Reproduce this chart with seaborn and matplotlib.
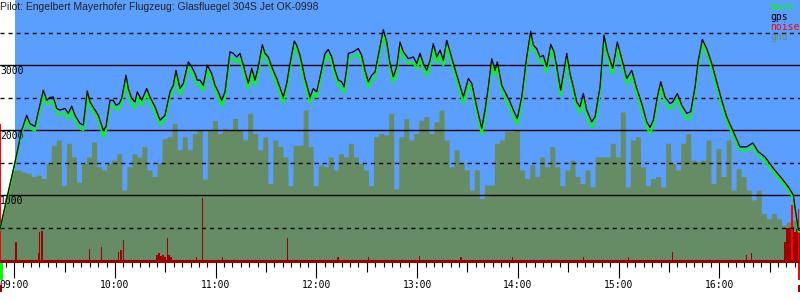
import numpy as np
import pandas as pd
import seaborn as sns
import matplotlib.pyplot as plt
import matplotlib.transforms as mtransforms
from matplotlib.patches import Rectangle
from matplotlib.ticker import MultipleLocator

# --- data ---
title = "Pilot: Engelbert Mayerhofer Flugzeug: Glasfluegel 304S Jet OK-0998"

fix_time = [
    "08:51:29", "08:55:57", "09:00:25", "09:04:25", "09:07:23", "09:09:21", "09:12:20", "09:17:17",
    "09:19:18", "09:21:16", "09:23:14", "09:25:16", "09:27:14", "09:30:13", "09:32:10", "09:34:12",
    "09:36:10", "09:39:09", "09:41:07", "09:43:29", "09:45:06", "09:48:05", "09:50:03", "09:53:02",
    "09:54:38", "09:57:01", "09:58:59", "10:00:35", "10:02:33", "10:03:59", "10:06:33", "10:07:55",
    "10:09:57", "10:11:55", "10:13:17", "10:15:54", "10:18:53", "10:20:51", "10:23:50", "10:26:49",
    "10:29:47", "10:32:46", "10:34:44", "10:36:20", "10:38:43", "10:40:41", "10:43:40", "10:45:41",
    "10:47:40", "10:49:02", "10:50:38", "10:52:37", "10:54:59", "10:57:37", "10:59:35", "11:01:32",
    "11:03:34", "11:05:32", "11:08:31", "11:10:29", "11:12:31", "11:14:28", "11:16:26", "11:19:25",
    "11:21:26", "11:23:25", "11:25:23", "11:27:46", "11:29:22", "11:31:20", "11:33:22", "11:36:20",
    "11:40:16", "11:42:18", "11:44:16", "11:46:49", "11:48:15", "11:50:13", "11:53:12", "11:56:11",
    "11:58:08", "12:00:10", "12:02:08", "12:05:07", "12:07:05", "12:09:07", "12:11:05", "12:13:02",
    "12:15:04", "12:16:26", "12:18:03", "12:19:00", "12:21:59", "12:24:58", "12:26:59", "12:28:57",
    "12:30:55", "12:32:56", "12:34:55", "12:37:53", "12:39:52", "12:41:53", "12:43:51", "12:45:49",
    "12:47:50", "12:49:49", "12:51:46", "12:54:45", "12:57:44", "12:59:46", "13:01:44", "13:03:41",
    "13:05:43", "13:07:41", "13:09:39", "13:11:41", "13:13:39", "13:15:37", "13:17:38", "13:19:37",
    "13:21:34", "13:24:33", "13:27:32", "13:30:31", "13:32:32", "13:35:31", "13:38:29", "13:40:27",
    "13:42:25", "13:44:26", "13:46:25", "13:47:47", "13:50:24", "13:52:22", "13:55:21", "13:57:19",
    "13:59:41", "14:02:19", "14:05:17", "14:07:40", "14:09:13", "14:11:14", "14:13:13", "14:15:11",
    "14:17:12", "14:19:35", "14:21:33", "14:23:10", "14:25:32", "14:27:31", "14:29:07", "14:31:05",
    "14:33:03", "14:35:04", "14:37:02", "14:39:01", "14:41:02", "14:44:01", "14:45:59", "14:48:58",
    "14:51:20", "14:53:19", "14:56:32", "14:59:16", "15:01:53", "15:04:52", "15:07:51", "15:10:50",
    "15:13:49", "15:16:47", "15:18:45", "15:20:43", "15:23:06", "15:25:08", "15:27:41", "15:30:40",
    "15:32:17", "15:35:01", "15:37:38", "15:40:37", "15:43:00", "15:45:34", "15:47:32", "15:49:55",
    "15:52:32", "15:55:31", "15:58:29", "16:01:28", "16:04:27", "16:08:23", "16:12:22", "16:16:22",
    "16:19:56", "16:23:16", "16:27:16", "16:32:13", "16:37:13", "16:41:09", "16:44:08", "16:45:08",
    "16:47:07", "16:48:06",
]

gps_alt = [
    480, 1000, 1510, 2000, 2230, 2100, 2060, 2615, 2460, 2505, 2510, 2335, 2310, 2335, 2260, 2370,
    2230, 2105, 2080, 2605, 2435, 2310, 2230, 2000, 2055, 2460, 2460, 2385, 2410, 2490, 2845, 2640,
    2490, 2435, 2590, 2460, 2640, 2510, 2360, 2155, 2230, 2590, 2690, 2920, 2640, 2720, 3050, 2975,
    2870, 2770, 2770, 2690, 3000, 2870, 2690, 2590, 2460, 2590, 3205, 3180, 3125, 3180, 3000, 2720,
    2950, 2770, 2975, 3315, 3180, 3125, 2975, 2795, 2510, 2720, 3025, 3370, 3305, 3150, 2795, 2510,
    2640, 2590, 2820, 3180, 3240, 3125, 2920, 2770, 2745, 2665, 2950, 3180, 3205, 3255, 3150, 2920,
    2745, 2845, 2895, 3280, 3545, 3355, 3025, 2820, 2975, 3355, 3205, 3100, 3125, 3025, 3180, 3025,
    2920, 3075, 3330, 3125, 3230, 3075, 3380, 3205, 3025, 2770, 2510, 2795, 2720, 2360, 2030, 2310,
    2665, 3100, 2920, 3050, 2690, 2590, 2435, 2310, 2180, 2510, 3125, 3520, 3305, 3255, 3125, 3150,
    2975, 3320, 3205, 2975, 2615, 2920, 3180, 2870, 2665, 2435, 2360, 2565, 2310, 2130, 2205, 2665,
    3460, 3205, 2950, 3355, 3100, 2795, 2920, 2640, 2410, 2130, 2045, 2155, 2510, 2745, 2510, 2410,
    2435, 2565, 2385, 2260, 2285, 2665, 3075, 3395, 3255, 3025, 2745, 2460, 2205, 1975, 1745, 1745,
    1805, 1670, 1590, 1415, 1260, 1130, 1005, 810, 470, 460,
]

baro_alt = [
    470, 980, 1480, 1960, 2160, 2030, 1990, 2540, 2390, 2420, 2440, 2260, 2230, 2270, 2180, 2290,
    2140, 2030, 2000, 2530, 2370, 2240, 2160, 1900, 1990, 2390, 2380, 2310, 2330, 2410, 2760, 2560,
    2400, 2350, 2510, 2380, 2560, 2430, 2280, 2080, 2160, 2510, 2610, 2840, 2550, 2640, 2970, 2890,
    2790, 2690, 2700, 2610, 2920, 2790, 2610, 2510, 2370, 2510, 3120, 3100, 3040, 3100, 2920, 2640,
    2870, 2690, 2890, 3230, 3100, 3050, 2890, 2710, 2420, 2640, 2940, 3290, 3220, 3070, 2710, 2420,
    2560, 2510, 2740, 3100, 3160, 3040, 2840, 2690, 2660, 2580, 2870, 3100, 3120, 3170, 3070, 2840,
    2660, 2760, 2810, 3200, 3460, 3270, 2940, 2740, 2890, 3280, 3120, 3020, 3040, 2940, 3100, 2940,
    2840, 2990, 3250, 3040, 3150, 2990, 3300, 3120, 2940, 2690, 2420, 2710, 2640, 2280, 1930, 2230,
    2580, 3020, 2840, 2970, 2610, 2500, 2350, 2220, 2090, 2430, 3040, 3440, 3220, 3170, 3040, 3070,
    2890, 3240, 3120, 2890, 2530, 2840, 3100, 2790, 2580, 2350, 2270, 2480, 2220, 2040, 2120, 2580,
    3380, 3120, 2860, 3280, 3020, 2710, 2840, 2560, 2320, 2040, 1950, 2070, 2430, 2660, 2430, 2330,
    2350, 2480, 2300, 2170, 2200, 2590, 3000, 3320, 3180, 2950, 2670, 2390, 2140, 1910, 1690, 1690,
    1750, 1610, 1530, 1360, 1210, 1085, 960, 770, 450, 440,
]

# ground elevation, one value every 3 minutes from 08:52
gnd_start = "08:52:00"
gnd_step_min = 3
gnd_alt = [
    1300, 1350, 1390, 1390, 1360, 1340, 1290, 1310, 1260, 1490,
    1770, 1850, 1150, 1800, 1590, 1200, 1490, 1590, 1820, 1440,
    1390, 1490, 1540, 1640, 1080, 1440, 1640, 1590, 1750, 1390,
    1290, 1490, 1870, 1900, 2100, 1700, 1900, 1700, 1950, 2000,
    1250, 2000, 2150, 1950, 2030, 2010, 2180, 2000, 1850, 2260,
    1950, 1700, 1900, 1180, 1850, 1750, 1590, 1150, 1770, 1770,
    2310, 1750, 1150, 1470, 1440, 1590, 1390, 1640, 1590, 1800,
    1590, 1490, 1390, 1150, 1900, 1950, 1930, 2260, 1100, 1900,
    2180, 1850, 1950, 2150, 2210, 1950, 2130, 2310, 1850, 1440,
    1700, 1490, 1390, 1080, 1390, 950, 1160, 1160, 1800, 1850,
    1980, 1980, 2000, 1390, 1260, 1470, 1290, 1590, 1440, 1750,
    1440, 1150, 1390, 1540, 1290, 1180, 1390, 1130, 1590, 1590,
    1590, 1800, 1590, 2280, 1130, 1850, 1900, 1440, 1150, 1260,
    1290, 1130, 1800, 1490, 1390, 1800, 1950, 1540, 1520, 1540,
    1850, 1180, 1720, 1290, 1850, 1080, 1410, 1290, 1080, 930,
    1080, 720, 640, 720, 640, 540, 590, 620, 570, 560,
]

noise_time = [
    "09:01:00", "09:14:18", "09:14:54", "09:16:12", "09:16:48", "09:44:41", "09:52:04", "10:01:58",
    "10:03:34", "10:04:56", "10:25:01", "10:26:13", "10:27:24", "10:28:36", "10:29:47", "10:31:10",
    "10:32:10", "10:33:22", "10:48:40", "10:52:00", "11:04:10", "11:42:40", "12:12:52", "12:30:55",
    "13:01:18", "13:26:08", "13:56:42", "14:39:00", "15:05:48", "15:32:16", "16:16:22", "16:19:20",
    "16:39:12", "16:40:24", "16:41:36", "16:42:48", "16:44:00", "16:45:08", "16:46:18", "16:47:30",
]
noise_val = [
    290, 115, 430, 460, 460, 180, 200, 125, 160, 320, 80, 110, 70, 90, 60, 340,
    90, 60, 50, 960, 60, 350, 50, 50, 70, 50, 60, 50, 60, 130, 85, 110,
    290, 500, 500, 470, 520, 430, 480, 470,
]
# noise peaks drawn in bright red
alarm_time = ["08:51:46", "16:43:12", "16:47:06"]
alarm_val = [2100, 850, 790]

sky_start = "09:00:25"
hour_labels = ["09:00", "10:00", "11:00", "12:00", "13:00", "14:00", "15:00", "16:00"]
alt_labels = [1000, 2000, 3000]
alt_dashed = [500, 1500, 2500, 3500]
legend_names = ["baro", "gps", "noise", "gnd"]

# --- colours ---
c_sky = "#5b9ffe"
c_gnd = "#658c64"
c_noise = "#9c0000"
c_alarm = "#ff0000"
c_baro = "#00ff00"
c_gps = "#000000"
legend_colors = [c_baro, c_gps, c_alarm, c_gnd]


def to_h(s):
    return pd.to_timedelta(s).total_seconds() / 3600


t = np.array([to_h(s) for s in fix_time])
df = pd.DataFrame({"t": t, "gps": gps_alt, "baro": baro_alt})

sns.set_theme(style="white")
mono = "DejaVu Sans Mono"
plt.rcParams["font.family"] = [mono]

W, H = 800, 300
fig = plt.figure(figsize=(W / 100, H / 100), dpi=100)
ax_h = 260.5
ax = fig.add_axes([0, (H - ax_h) / H, 1, ax_h / H])
ax.set_facecolor("white")
x0, x1 = t[0], t[-1]
ax.set_xlim(x0, x1)
ax.set_ylim(0, 4000)
for sp in ax.spines.values():
    sp.set_visible(False)

# sky
ax.axvspan(to_h(sky_start), x1, color=c_sky, lw=0, zorder=0)

# ground, clipped below the trace
gt0 = to_h(gnd_start)
tt = np.arange(x0, x1, 1 / 600)
idx = np.clip(np.floor((tt - gt0) * 60 / gnd_step_min).astype(int), 0, len(gnd_alt) - 1)
g = np.minimum(np.array(gnd_alt)[idx], np.interp(tt, t, baro_alt))
ax.fill_between(tt, 0, g, color=c_gnd, lw=0, zorder=1)

# engine noise
px_h = (x1 - x0) / W
ax.bar([to_h(s) for s in noise_time], noise_val, width=1.3 * px_h, color=c_noise, lw=0, zorder=2)
ax.bar([to_h(s) for s in alarm_time], alarm_val, width=1.5 * px_h, color=c_alarm, lw=0, zorder=2)
ax.axhline(0, color=c_noise, lw=2.2, zorder=2, clip_on=False)

# reference lines
for v in alt_labels:
    ax.axhline(v, color="black", lw=1.0, zorder=3)
for v in alt_dashed:
    ax.axhline(v, color="black", lw=1.0, dashes=(2.9, 2.9), zorder=3)

ytrans = mtransforms.blended_transform_factory(ax.transAxes, ax.transData)
for v in alt_labels:
    ax.annotate(str(v), xy=(0, v), xycoords=ytrans, xytext=(0, -1), textcoords="offset pixels",
                ha="left", va="top", fontsize=7, family=mono, color="black", zorder=2.5)

# traces
sns.lineplot(data=df, x="t", y="baro", ax=ax, color=c_baro, lw=1.4, estimator=None, zorder=4)
sns.lineplot(data=df, x="t", y="gps", ax=ax, color=c_gps, lw=0.9, estimator=None, zorder=5)
ax.set_xlabel("")
ax.set_ylabel("")

# time axis
hours = [to_h(h + ":00") for h in hour_labels]
ax.set_xticks(hours, hour_labels)
ax.xaxis.set_minor_locator(MultipleLocator(5 / 60))
ax.tick_params(axis="x", which="major", bottom=True, length=12.2, width=0.8, color="black",
               pad=2.2, labelsize=7, labelcolor="black")
ax.tick_params(axis="x", which="minor", bottom=True, length=4.3, width=0.8, color="black")
ax.tick_params(axis="y", left=False, labelleft=False)
for lab in ax.get_xticklabels():
    lab.set_family(mono)
sec = ax.secondary_xaxis("bottom")
sec.set_xticks([h + 0.5 for h in hours])
sec.tick_params(length=7.9, width=0.8, color="black", labelbottom=False)
sec.spines["bottom"].set_visible(False)

# takeoff / landing markers under the axis
xtrans = mtransforms.blended_transform_factory(ax.transData, ax.transAxes)
ax.add_patch(Rectangle((x0, -0.075), 3 * px_h, 0.069, transform=xtrans, color=c_baro,
                       lw=0, clip_on=False))
ax.add_patch(Rectangle((x1 - 2.3 * px_h, -0.075), 2.3 * px_h, 0.069, transform=xtrans,
                       color=c_alarm, lw=0, clip_on=False))
ax.add_patch(Rectangle((x0, -0.121), 2 * px_h, 0.027, transform=xtrans, color=c_noise,
                       lw=0, clip_on=False))
ax.add_patch(Rectangle((x1 - 2 * px_h, -0.121), 2 * px_h, 0.027, transform=xtrans,
                       color=c_noise, lw=0, clip_on=False))

# legend as coloured words
for i, (name, col) in enumerate(zip(legend_names, legend_colors)):
    ax.text(0.9625, 1 - (6.7 + 10 * i) / ax_h, name, transform=ax.transAxes, ha="left",
            va="center", fontsize=7, family=mono, color=col, zorder=6)

fig.text(0, 1 - 7 / H, title, ha="left", va="center", fontsize=7.5,
         family=["Liberation Sans", "DejaVu Sans"], color="#222222")

fig.savefig("out.png", dpi=100)
